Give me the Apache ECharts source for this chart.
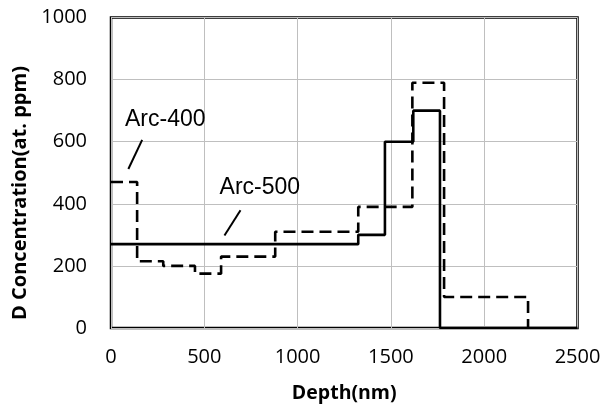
<!DOCTYPE html>
<html><head><meta charset="utf-8">
<script src="https://cdn.jsdelivr.net/npm/echarts@6/dist/echarts.min.js"></script>
<style>html,body{margin:0;padding:0;background:#fff}#c{width:602px;height:409px}</style>
</head><body><div id="c"></div>
<script>
// Step edges (nm) and levels (at. ppm)
const arc500Edges = [0, 1325, 1468, 1620, 1763, 2500];
const arc500Vals  = [270, 300, 600, 700, 0];
const arc400Edges = [0, 140, 280, 450, 590, 880, 1325, 1615, 1785, 2235];
const arc400Vals  = [470, 215, 200, 175, 230, 310, 390, 790, 100];
const xTicks = [0, 500, 1000, 1500, 2000, 2500];
const yTicks = [0, 200, 400, 600, 800, 1000];
const labels = [
  {text: 'Arc-400', at: [75, 671], line: [[167, 606], [93, 512]]},
  {text: 'Arc-500', at: [582, 452], line: [[694, 379], [608, 298]]}
];
const yTitle = 'D Concentration(at. ppm)';

function stepPoints(edges, vals, endDrop) {
  const pts = [];
  for (let i = 0; i < vals.length; i++) {
    pts.push([edges[i], vals[i]]);
    pts.push([edges[i + 1], vals[i]]);
  }
  if (endDrop) pts.push([edges[edges.length - 1], 0]);
  return pts;
}

const FONT = '"Open Sans", sans-serif';
const chart = echarts.init(document.getElementById('c'), null, {renderer: 'canvas'});
const option = {
  animation: false,
  grid: {left: 111, right: 24.5, top: 17.5, bottom: 81, containLabel: false, outerBoundsMode: 'none',
         show: true, borderColor: '#000', borderWidth: 2.5, backgroundColor: 'transparent'},
  xAxis: {
    type: 'value', min: xTicks[0], max: xTicks[xTicks.length - 1], interval: 500,
    name: 'Depth(nm)', nameLocation: 'middle', nameGap: 55,
    nameTextStyle: {fontFamily: FONT, fontWeight: 'bold', fontSize: 19.5, color: '#000'},
    axisLine: {show: false}, axisTick: {show: false},
    axisLabel: {fontFamily: FONT, fontSize: 20, color: '#000', margin: 19, formatter: v => String(v)},
    splitLine: {show: true, lineStyle: {color: '#bfbfbf', width: 1}}
  },
  yAxis: {
    type: 'value', min: yTicks[0], max: yTicks[yTicks.length - 1], interval: 200,
    axisLine: {show: false}, axisTick: {show: false},
    axisLabel: {fontFamily: FONT, fontSize: 20, color: '#000', margin: 24, formatter: v => String(v)},
    splitLine: {show: true, lineStyle: {color: '#bfbfbf', width: 1}}
  },
  series: [
    {name: 'Arc-500', type: 'line', data: stepPoints(arc500Edges, arc500Vals, false), showSymbol: false,
     lineStyle: {color: '#000', width: 2.6}, z: 3},
    {name: 'Arc-400', type: 'line', data: stepPoints(arc400Edges, arc400Vals, true), showSymbol: false,
     lineStyle: {color: '#000', width: 2.6, type: [12, 6]}, z: 4}
  ]
};
chart.setOption(option);

const g = [];
labels.forEach(l => {
  const p = chart.convertToPixel({gridIndex: 0}, l.at);
  const a = chart.convertToPixel({gridIndex: 0}, l.line[0]);
  const b = chart.convertToPixel({gridIndex: 0}, l.line[1]);
  g.push({type: 'text', x: p[0], y: p[1], style: {text: l.text, font: '23px "Liberation Sans", Arial, sans-serif', fill: '#000', textVerticalAlign: 'middle', verticalAlign: 'middle'}});
  g.push({type: 'line', shape: {x1: a[0], y1: a[1], x2: b[0], y2: b[1]}, style: {stroke: '#000', lineWidth: 2}});
});
g.push({type: 'text', x: 20, y: 193, rotation: Math.PI / 2,
        style: {text: yTitle, font: 'bold 20px "Open Sans", sans-serif', fill: '#000',
                align: 'center', verticalAlign: 'middle', textAlign: 'center', textVerticalAlign: 'middle'}});
chart.setOption({graphic: g});
</script></body></html>
